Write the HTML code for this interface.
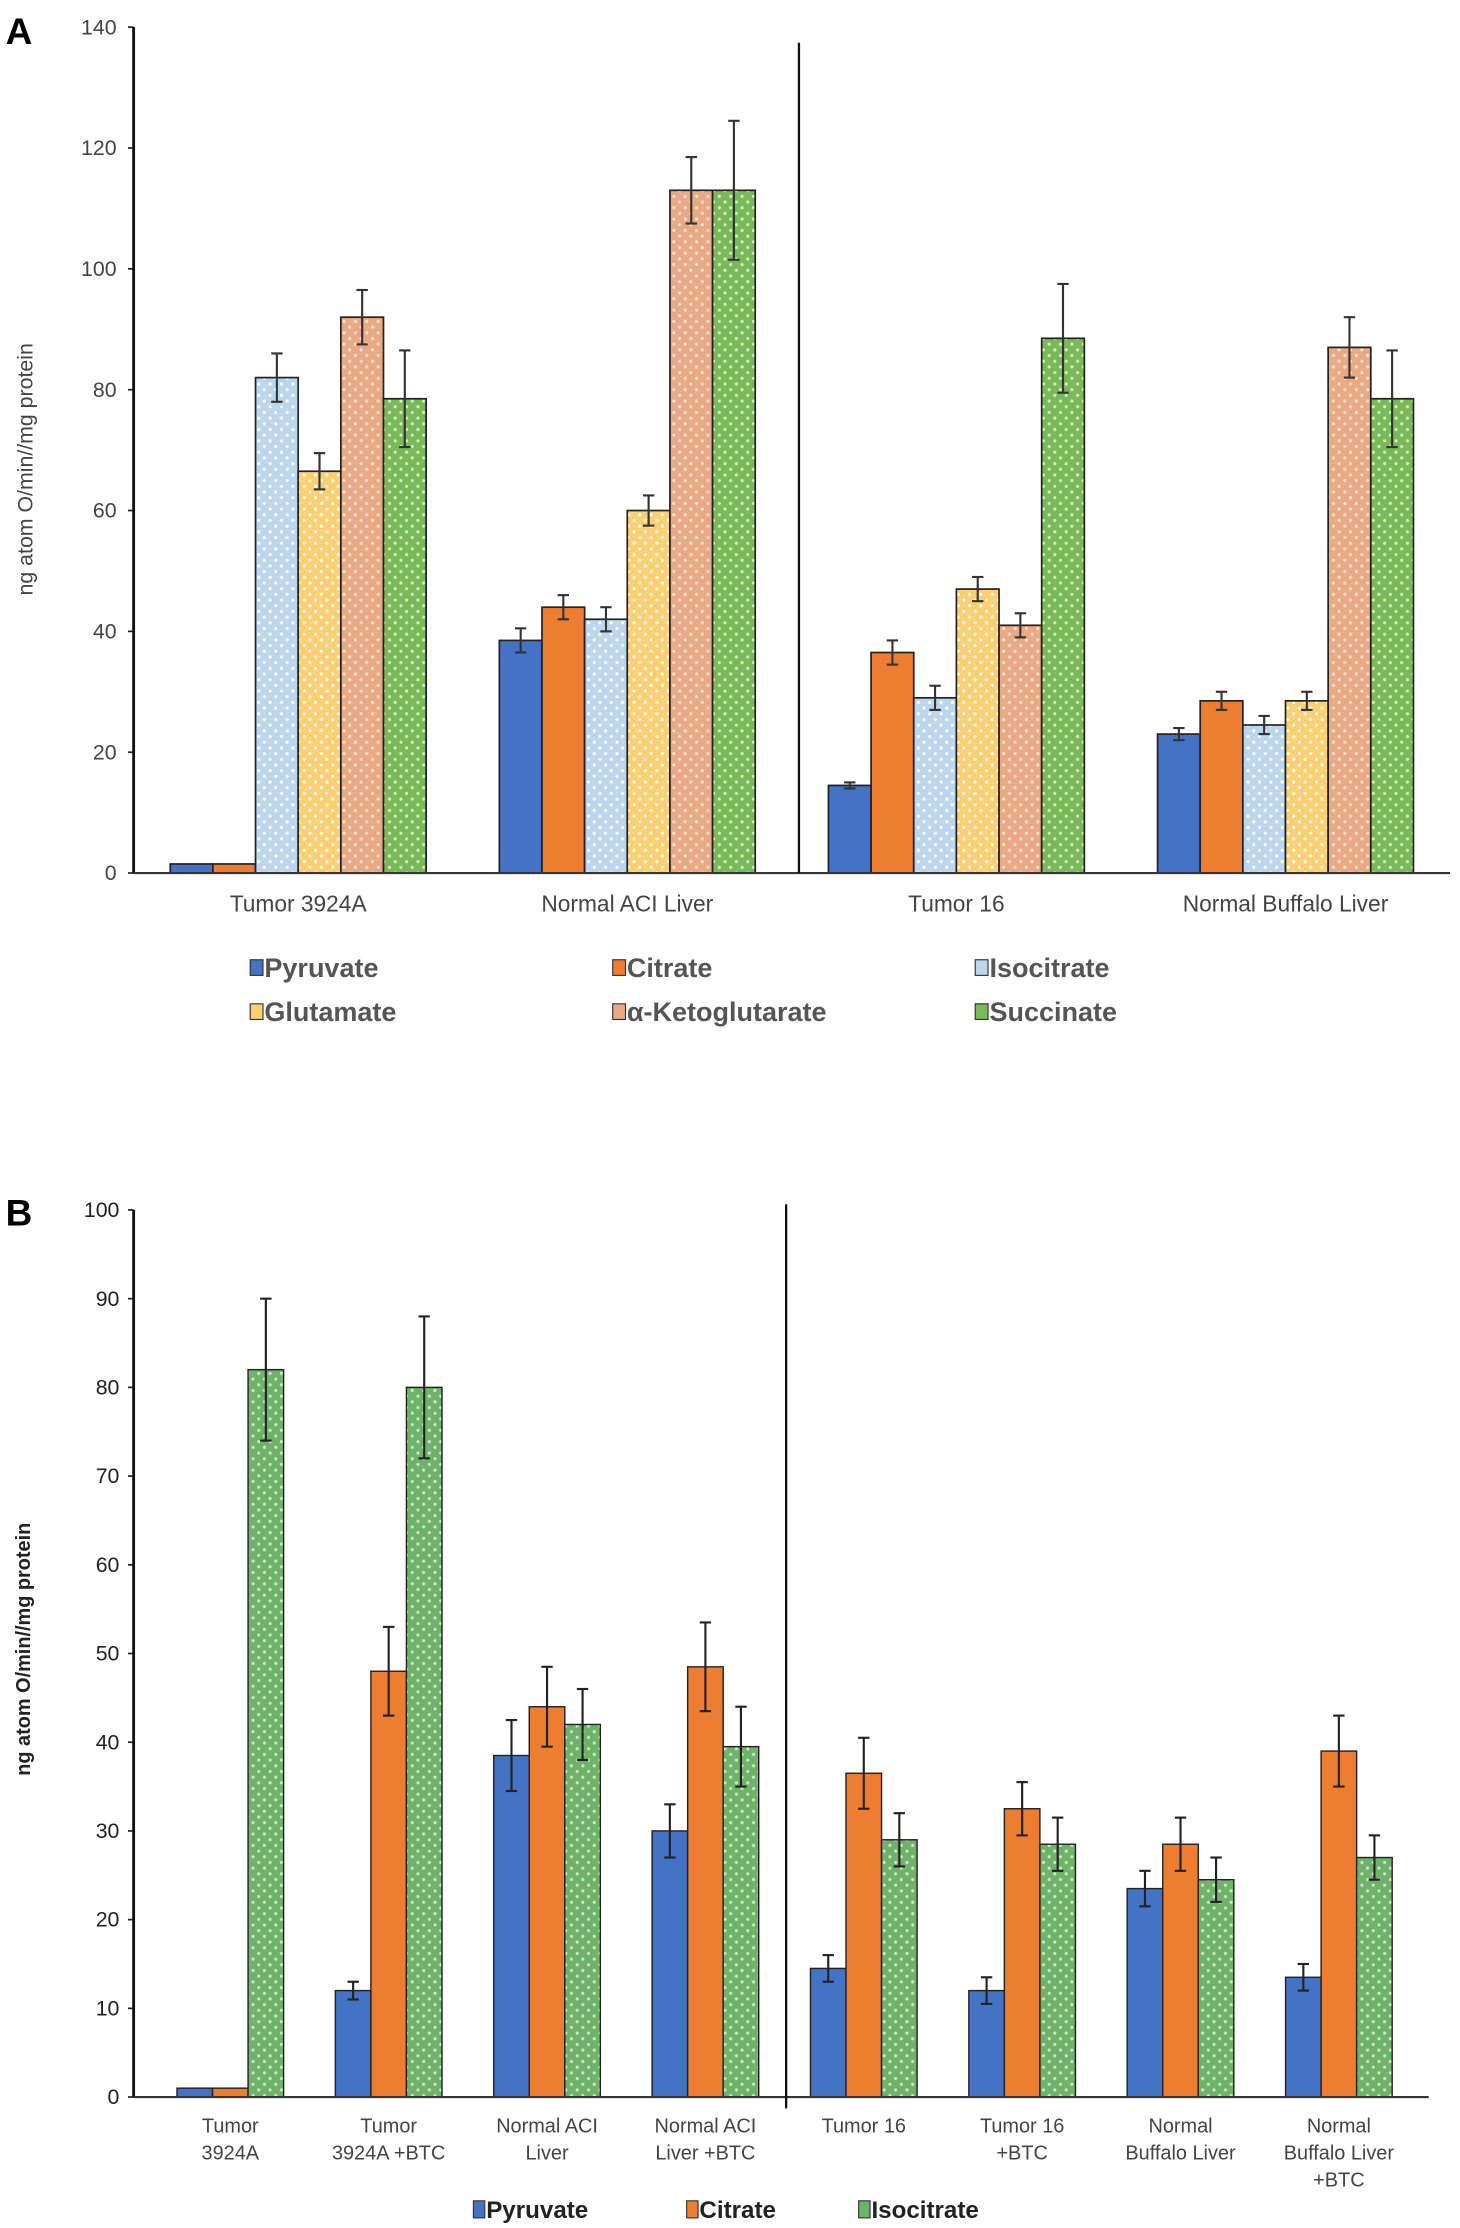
<!DOCTYPE html>
<html><head><meta charset="utf-8"><style>
html,body{margin:0;padding:0;background:#fff;}
svg{display:block;}
text{font-family:"Liberation Sans",sans-serif;}
</style></head><body>
<svg id="fig" width="1460" height="2228" viewBox="0 0 1027 1567" xmlns="http://www.w3.org/2000/svg">
<defs>
<pattern id="dotBlue" width="8" height="8" patternUnits="userSpaceOnUse"><rect width="8" height="8" fill="#bcd6ee"/><circle cx="2" cy="2" r="1.1" fill="#fff"/><circle cx="6" cy="6" r="1.1" fill="#fff"/></pattern>
<pattern id="dotYellow" width="8" height="8" patternUnits="userSpaceOnUse"><rect width="8" height="8" fill="#fbcf72"/><circle cx="2" cy="2" r="1.1" fill="#fff"/><circle cx="6" cy="6" r="1.1" fill="#fff"/></pattern>
<pattern id="dotPeach" width="8" height="8" patternUnits="userSpaceOnUse"><rect width="8" height="8" fill="#eaa985"/><circle cx="2" cy="2" r="1.1" fill="#fbe3d3"/><circle cx="6" cy="6" r="1.1" fill="#fbe3d3"/></pattern>
<pattern id="dotGreen" width="8" height="8" patternUnits="userSpaceOnUse"><rect width="8" height="8" fill="#79b957"/><circle cx="2" cy="2" r="1.1" fill="#d8edca"/><circle cx="6" cy="6" r="1.1" fill="#d8edca"/></pattern>
<pattern id="dotGreenB" width="8" height="8" patternUnits="userSpaceOnUse"><rect width="8" height="8" fill="#6fb26a"/><circle cx="2" cy="2" r="1.1" fill="#cfe8c8"/><circle cx="6" cy="6" r="1.1" fill="#cfe8c8"/></pattern>
</defs>
<g id="chartA"></g>
<g id="chartB"></g>
</svg>
<script>
// ---- Chart A data ----
const catsA = ["Tumor 3924A","Normal ACI Liver","Tumor 16","Normal Buffalo Liver"];
const seriesA = ["Pyruvate","Citrate","Isocitrate","Glutamate","α-Ketoglutarate","Succinate"];
const pyruvateA = [1.5,38.5,14.5,23];
const citrateA = [1.5,44,36.5,28.5];
const isocitrateA = [82,42,29,24.5];
const glutamateA = [66.5,60,47,28.5];
const akgA = [92,113,41,87];
const succinateA = [78.5,113,88.5,78.5];
const errPyruvateA = [0,2,0.5,1];
const errCitrateA = [0,2,2,1.5];
const errIsocitrateA = [4,2,2,1.5];
const errGlutamateA = [3,2.5,2,1.5];
const errAkgA = [4.5,5.5,2,5];
const errSuccinateA = [8,11.5,9,8];
const ticksA = [0,20,40,60,80,100,120,140];
// ---- Chart B data ----
const catsB = [["Tumor","3924A"],["Tumor","3924A +BTC"],["Normal ACI","Liver"],["Normal ACI","Liver +BTC"],["Tumor 16"],["Tumor 16","+BTC"],["Normal","Buffalo Liver"],["Normal","Buffalo Liver","+BTC"]];
const seriesB = ["Pyruvate","Citrate","Isocitrate"];
const pyruvateB = [1,12,38.5,30,14.5,12,23.5,13.5];
const citrateB = [1,48,44,48.5,36.5,32.5,28.5,39];
const isocitrateB = [82,80,42,39.5,29,28.5,24.5,27];
const errPyruvateB = [0,1,4,3,1.5,1.5,2,1.5];
const errCitrateB = [0,5,4.5,5,4,3,3,4];
const errIsocitrateB = [8,8,4,4.5,3,3,2.5,2.5];
const ticksB = [0,10,20,30,40,50,60,70,80,90,100];

const NS="http://www.w3.org/2000/svg";
function mk(parent,tag,attrs,txt){const e=document.createElementNS(NS,tag);for(const k in attrs)e.setAttribute(k,attrs[k]);if(txt!==undefined)e.textContent=txt;parent.appendChild(e);return e;}

// ---------- Chart A ----------
(function(){
const g=document.getElementById('chartA');
const x0=94,x1=1020,yTop=19,yBot=614,vmax=140;
const y=v=>yBot-(v/vmax)*(yBot-yTop);
const step=(x1-x0)/catsA.length, bw=30;
const vals=[pyruvateA,citrateA,isocitrateA,glutamateA,akgA,succinateA];
const errs=[errPyruvateA,errCitrateA,errIsocitrateA,errGlutamateA,errAkgA,errSuccinateA];
const fills=["#4472c4","#ed7d31","url(#dotBlue)","url(#dotYellow)","url(#dotPeach)","url(#dotGreen)"];
const lbl=mk(g,'text',{x:4,y:31,'font-size':26,'font-weight':'bold',fill:'#000'},'A');

ticksA.forEach(t=>{
  const tx=mk(g,'text',{x:82,y:y(t)+5,'font-size':15,fill:'#444','text-anchor':'end'},t);
  
  mk(g,'line',{x1:x0-4,x2:x0,y1:y(t),y2:y(t),stroke:'#222','stroke-width':1.2});
});
catsA.forEach((c,i)=>{
  const cx=x0+step*(i+0.5);
  vals.forEach((s,j)=>{
    const bx=cx-3*bw+j*bw;
    const r=mk(g,'rect',{x:bx,y:y(s[i]),width:bw,height:yBot-y(s[i]),fill:fills[j],stroke:'#222','stroke-width':1.2});
    
    
    const e=errs[j][i];
    if(e>0){
      const ex=bx+bw/2;
      mk(g,'line',{x1:ex,x2:ex,y1:y(s[i]+e),y2:y(s[i]-e),stroke:'#333','stroke-width':1.5});
      mk(g,'line',{x1:ex-4,x2:ex+4,y1:y(s[i]+e),y2:y(s[i]+e),stroke:'#333','stroke-width':1.5});
      mk(g,'line',{x1:ex-4,x2:ex+4,y1:y(s[i]-e),y2:y(s[i]-e),stroke:'#333','stroke-width':1.5});
    }
  });
  const tl=mk(g,'text',{x:cx,y:641,'font-size':16,fill:'#444','text-anchor':'middle'},c);
  
});
const ax=mk(g,'line',{x1:x0,x2:x0,y1:yTop,y2:yBot,stroke:'#111','stroke-width':2});

const xa=mk(g,'line',{x1:x0,x2:x1,y1:yBot,y2:yBot,stroke:'#333','stroke-width':1.5});

const dv=mk(g,'line',{x1:562,x2:562,y1:30,y2:yBot,stroke:'#111','stroke-width':1.6});

const yt=mk(g,'text',{x:0,y:0,'font-size':15,fill:'#444','text-anchor':'middle',transform:'translate(23,330) rotate(-90)'},'ng atom O/min//mg protein');

const lx=[185,440,695],ly=[686,717];
const lfill=["#4472c4","#ed7d31","#bcd6ee","#fbcf72","#eaa985","#79b957"];
seriesA.forEach((s,j)=>{
  const X=lx[j%3],Y=ly[Math.floor(j/3)];
  const le=mk(g,'g',{});
  
  mk(le,'rect',{x:X-9,y:Y-11,width:9,height:11,fill:lfill[j],stroke:'#333','stroke-width':0.8});
  mk(le,'text',{x:X+1,y:Y+1,'font-size':19,'font-weight':'bold',fill:'#555'},s);
});
})();

// ---------- Chart B ----------
(function(){
const g=document.getElementById('chartB');
const x0=94,x1=1005,yTop=851,yBot=1475,vmax=100;
const y=v=>yBot-(v/vmax)*(yBot-yTop);
const c0=162,step=111.4,bw=25;
const vals=[pyruvateB,citrateB,isocitrateB];
const errs=[errPyruvateB,errCitrateB,errIsocitrateB];
const fills=["#4472c4","#ed7d31","url(#dotGreenB)"];
const lbl=mk(g,'text',{x:4,y:862,'font-size':26,'font-weight':'bold',fill:'#000'},'B');

ticksB.forEach(t=>{
  const tx=mk(g,'text',{x:84,y:y(t)+5,'font-size':15,fill:'#222','text-anchor':'end'},t);
  
  mk(g,'line',{x1:x0-4,x2:x0,y1:y(t),y2:y(t),stroke:'#222','stroke-width':1.2});
});
catsB.forEach((c,i)=>{
  const cx=c0+step*i;
  vals.forEach((s,j)=>{
    const bx=cx-1.5*bw+j*bw;
    const r=mk(g,'rect',{x:bx,y:y(s[i]),width:bw,height:yBot-y(s[i]),fill:fills[j],stroke:'#222','stroke-width':1});
    
    
    const e=errs[j][i];
    if(e>0){
      const ex=bx+bw/2;
      mk(g,'line',{x1:ex,x2:ex,y1:y(s[i]+e),y2:y(s[i]-e),stroke:'#222','stroke-width':1.5});
      mk(g,'line',{x1:ex-4,x2:ex+4,y1:y(s[i]+e),y2:y(s[i]+e),stroke:'#222','stroke-width':1.5});
      mk(g,'line',{x1:ex-4,x2:ex+4,y1:y(s[i]-e),y2:y(s[i]-e),stroke:'#222','stroke-width':1.5});
    }
  });
  const tl=mk(g,'text',{x:cx,y:1500,'font-size':14,fill:'#444','text-anchor':'middle'});
  
  c.forEach((line,k)=>{mk(tl,'tspan',{x:cx,dy:k===0?0:19},line);});
});
const ax=mk(g,'line',{x1:x0,x2:x0,y1:yTop,y2:yBot,stroke:'#111','stroke-width':2});

const xa=mk(g,'line',{x1:x0,x2:x1,y1:yBot,y2:yBot,stroke:'#333','stroke-width':1.5});

const dv=mk(g,'line',{x1:553,x2:553,y1:847,y2:yBot+8,stroke:'#111','stroke-width':1.6});

const yt=mk(g,'text',{x:0,y:0,'font-size':14,'font-weight':'bold',fill:'#222','text-anchor':'middle',transform:'translate(21,1160) rotate(-90)'},'ng atom O/min//mg protein');

const lx=[342,492,613];
const lfill=["#4472c4","#ed7d31","#6fb26a"];
seriesB.forEach((s,j)=>{
  const X=lx[j],Y=1560;
  const le=mk(g,'g',{});
  
  mk(le,'rect',{x:X-9,y:Y-12,width:8,height:12,fill:lfill[j],stroke:'#333','stroke-width':0.8});
  mk(le,'text',{x:X,y:Y,'font-size':17,'font-weight':'bold',fill:'#222'},s);
});
})();
</script>
</body></html>
